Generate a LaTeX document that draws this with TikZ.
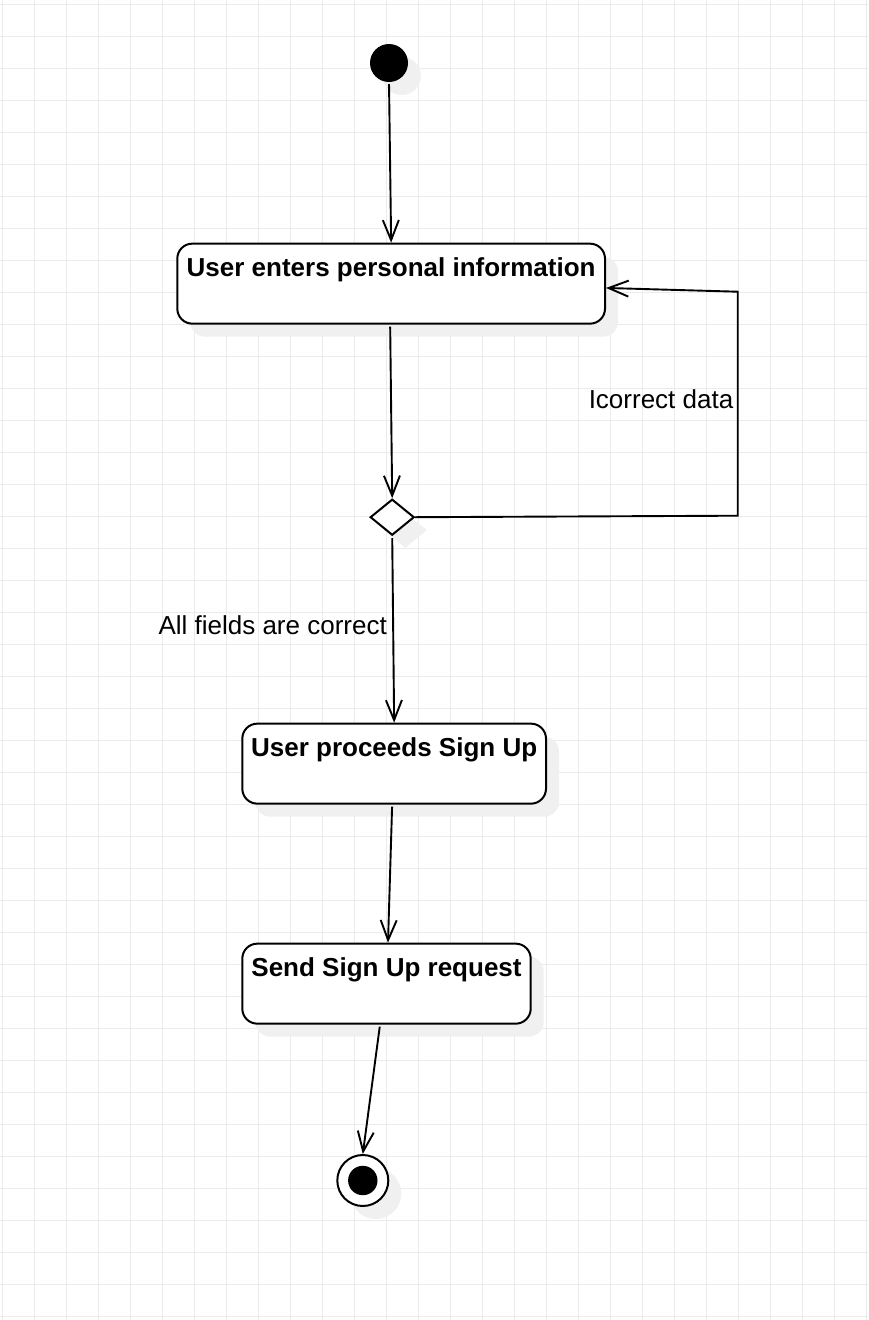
\documentclass[tikz,border=0pt]{standalone}
\usepackage{fontspec}
\setmainfont{Liberation Sans}
\usetikzlibrary{arrows.meta,shapes.geometric,shadows,calc}
\definecolor{gridc}{HTML}{EBEBEB}
\definecolor{shad}{HTML}{F0F0F0}
\tikzset{
  shadowed/.style={drop shadow={shadow xshift=13pt,shadow yshift=-13pt,fill=shad,opacity=1}},
  actbox/.style={draw, line width=2pt, rounded corners=15pt, fill=white, inner sep=0pt,
    text height=32.5pt, text depth=47.5pt, minimum height=80pt,
    font=\fontsize{26}{30}\selectfont\bfseries, shadowed},
  conn/.style={line width=1.9pt, -{Straight Barb[length=20pt,width=16pt]}, shorten <=2pt},
  plainline/.style={line width=1.9pt},
  lbl/.style={font=\fontsize{26}{30}\selectfont, inner sep=0pt},
}
\begin{document}
\begin{tikzpicture}[x=1pt,y=-1pt]
  \path[use as bounding box, fill=white] (0,0) rectangle (868,1320);
  % grid
  \foreach \gx in {2,34,...,866} \draw[gridc, line width=1pt] (\gx,0) -- (\gx,1320);
  \foreach \gy in {4,36,...,1316} \draw[gridc, line width=1pt] (0,\gy) -- (868,\gy);

  % start
  \node[circle, fill=black, minimum size=38pt, inner sep=0pt, shadowed] (start) at (389,63) {};

  % boxes
  \node[actbox, minimum width=427.7pt] (b1) at (391.15,283.65) {User enters personal information};
  \node[diamond, draw, fill=white, line width=2pt, inner sep=0pt, aspect=1.22,
        minimum width=44pt, minimum height=36pt, shadowed] (dec) at (392.2,517.2) {};
  \node[actbox, minimum width=303.7pt] (b2) at (394.15,763.65) {User proceeds Sign Up};
  \node[actbox, minimum width=288.4pt] (b3) at (386.5,983.65) {Send Sign Up request};

  % end
  \node[circle, draw, line width=2pt, fill=white, minimum size=51pt, inner sep=0pt, shadowed] (end) at (362.8,1180.5) {};
  \node[circle, fill=black, minimum size=29.4pt, inner sep=0pt] (endin) at (end.center) {};

  % connectors
  \draw[conn] (start.south) -- (b1.north);
  \draw[conn] ([xshift=-1pt]b1.south) -- (dec.north);
  \draw[conn] (dec.south) -- (b2.north);
  \draw[conn] ([xshift=-2pt]b2.south) -- ([xshift=1.5pt]b3.north);
  \draw[conn] ([xshift=-6.5pt]b3.south) -- (end.north);

  \coordinate (c1) at (737.7,515.7);
  \coordinate (c2) at (737.7,291.7);
  \draw[plainline, -{Straight Barb[length=20pt,width=16pt]}] (dec.east) -- (c1) -- (c2) -- ([yshift=-4.3pt]b1.east);

  % labels
  \node[lbl, anchor=base] (l1) at (661,408) {Icorrect data};
  \node[lbl, anchor=base east] (l2) at (387,634.3) {All fields are correct};
\end{tikzpicture}
\end{document}
